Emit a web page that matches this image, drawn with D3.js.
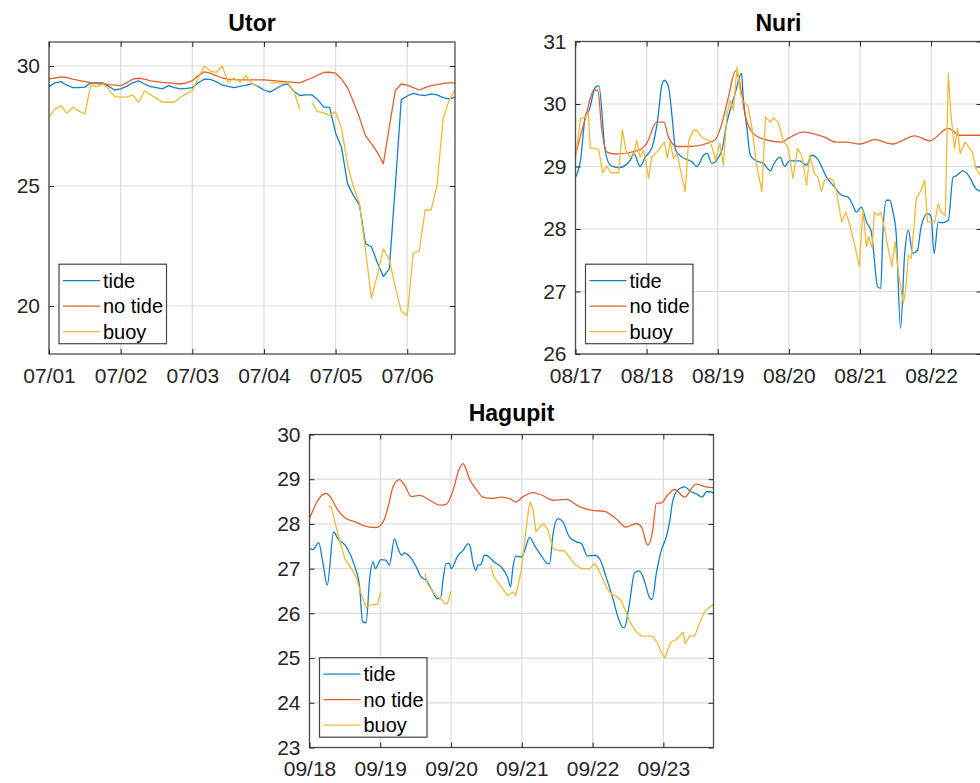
<!DOCTYPE html>
<html>
<head>
<meta charset="utf-8">
<script src="https://cdn.jsdelivr.net/npm/d3@7"></script>
<style>
  html, body { margin: 0; padding: 0; background: #fff; }
  svg { display: block; font-family: "Liberation Sans", Arial, Helvetica, sans-serif; }
</style>
</head>
<body>
<svg id="chart" width="980" height="783"></svg>
<script>
// Sea surface temperature during three typhoons: model run with tides,
// model run without tides, and buoy record. Each point is [hour, value],
// hours counted from 00:00 of the first labelled day; null = buoy gap.
const seriesNames = ["tide", "no tide", "buoy"];
const seriesColors = ["#1680c6", "#e0602e", "#efbb36"];

// ---------- Utor ----------
const utorDays = ["07/01", "07/02", "07/03", "07/04", "07/05", "07/06"];
const utorYTicks = [20, 25, 30];
const utorYRange = [18, 31];
const utorTide = [
  [0,29.14],[2,29.3],[4,29.35],[6,29.2],[8,29.1],[10,29.1],[12,29.12],[14,29.3],[16,29.3],[18,29.3],
  [20,29.15],[22,29.0],[24,29.05],[26,29.15],[28,29.3],[30,29.38],[32,29.25],[34,29.14],[36,29.1],[38,29.05],
  [40,29.18],[42,29.1],[44,29.05],[46,29.07],[48,29.1],[50,29.3],[52,29.45],[54,29.44],[56,29.35],[58,29.2],
  [60,29.15],[62,29.1],[64,29.15],[66,29.2],[68,29.27],[70,29.15],[72,29.0],[74,28.91],[76,29.05],[78,29.2],
  [80,29.25],[82,28.95],[84,28.77],[86,28.8],[88,28.8],[90,28.6],[92,28.3],[94,28.28],[96,27.2],[98,26.6],
  [100,25.1],[102,24.6],[104,24.2],[106,22.6],[108,22.47],[110,21.8],[112,21.23],[114,21.55],[116,25.0],[118,28.6],
  [120,28.75],[122,28.86],[124,28.8],[126,28.77],[128,28.84],[130,28.8],[132,28.68],[134,28.63],[136,28.7]
];
const utorNoTide = [
  [0,29.46],[2,29.5],[4,29.55],[6,29.52],[8,29.45],[10,29.4],[12,29.35],[14,29.3],[16,29.27],[18,29.25],
  [20,29.22],[22,29.2],[24,29.18],[26,29.3],[28,29.45],[30,29.49],[32,29.45],[34,29.38],[36,29.35],[38,29.32],
  [40,29.3],[42,29.28],[44,29.25],[46,29.3],[48,29.39],[50,29.6],[52,29.76],[54,29.7],[56,29.6],[58,29.5],
  [60,29.45],[62,29.43],[64,29.42],[66,29.42],[68,29.42],[70,29.42],[72,29.42],[74,29.4],[76,29.38],[78,29.36],
  [80,29.34],[82,29.32],[84,29.3],[86,29.4],[88,29.5],[90,29.62],[92,29.73],[94,29.74],[96,29.7],[98,29.45],
  [100,29.1],[102,28.5],[104,27.85],[106,27.1],[108,26.77],[110,26.4],[112,25.93],[114,27.46],[116,28.97],[118,29.25],
  [120,29.2],[122,29.1],[124,29.0],[126,29.1],[128,29.18],[130,29.22],[132,29.27],[134,29.3],[136,29.3]
];
const utorBuoy = [
  [0,27.87],[2,28.2],[4,28.35],[6,28.03],[8,28.28],[10,28.12],[12,28.0],[14,29.21],[16,29.14],[18,29.25],
  [20,29.04],[22,28.72],[24,28.7],[26,28.7],[28,28.8],[30,28.49],[32,28.96],[34,28.8],[36,28.65],[38,28.49],
  [40,28.49],[42,28.49],[44,28.7],[46,28.85],[48,28.97],[50,29.5],[52,30.0],[54,29.8],[56,29.73],[58,30.0],
  [60,29.32],[62,29.5],[64,29.32],[66,29.6],[68,29.25],[70,29.15],[72,null],
  [74,29.3],[76,29.3],[78,29.3],[80,29.28],[82,28.97],[84,28.2],[86,null],
  [88,28.49],[90,28.1],[92,28.05],[94,27.94],[96,28.1],[98,27.4],[100,25.9],[102,24.96],[104,24.27],[106,22.34],
  [108,20.33],[110,21.3],[112,22.37],[114,21.92],[116,20.8],[118,19.78],[120,19.6],[122,22.2],[124,22.3],[126,24.0],
  [128,24.0],[130,25.03],[132,27.8],[134,28.56],[136,29.0]
];

// ---------- Nuri ----------
const nuriDays = ["08/17", "08/18", "08/19", "08/20", "08/21", "08/22"];
const nuriYTicks = [26, 27, 28, 29, 30, 31];
const nuriYRange = [26, 31];
const nuriTide = [
  [0,28.83],[1.7,29.1],[3.4,29.82],[4.6,29.9],[6.7,30.27],[7.9,30.29],[10,29.26],[11.8,29.02],[14.6,28.98],[18.5,29.1],
  [19.7,29.21],[21.8,29.0],[23.5,29.15],[25.7,29.29],[28,29.85],[29,30.27],[30,30.38],[31.4,30.27],[32.6,29.79],[33.8,29.26],
  [36,29.15],[39.4,29.07],[41,29.0],[43.2,29.18],[44.4,29.21],[46,29.05],[49.4,29.26],[51,29.69],[52,29.87],[54,30.19],
  [56,30.49],[56.6,30.11],[57.8,29.63],[59,29.18],[60.7,29.1],[63.4,29.05],[65.8,28.93],[66.7,29.02],[69,29.15],[70.6,29.0],
  [72.2,29.09],[75.6,29.09],[78,29.02],[79.7,29.18],[81.4,29.14],[84.7,28.83],[87.4,28.67],[89.8,28.54],[92,28.51],[93.6,28.38],
  [94.8,28.27],[96.5,28.35],[98.2,28.11],[99.8,27.96],[102,27.07],[103,27.05],[103.7,27.93],[104.9,28.46],[106,28.46],[107,28.3],
  [108.2,27.93],[109.7,26.41],[111,27.55],[112.3,27.98],[113.8,27.61],[115.4,27.66],[116.6,28.03],[118.8,28.25],[120,28.2],[121,27.61],
  [122.4,28.11],[123.8,28.1],[125.8,28.14],[127.4,28.83],[128.4,28.85],[130.8,28.93],[133,28.83],[135,28.65],[137,28.6]
];
const nuriNoTide = [
  [0,29.18],[3.4,29.79],[6.2,30.22],[7.5,30.22],[8.9,29.58],[10.6,29.23],[13.4,29.2],[21.4,29.26],[24,29.37],[27.4,29.71],
  [29.8,29.71],[31.4,29.47],[34.3,29.32],[38.2,29.32],[47,29.42],[49.4,29.69],[51.6,30.11],[54,30.53],[55,30.43],[57.4,29.79],
  [60,29.53],[64,29.43],[69.6,29.39],[71.8,29.45],[76.8,29.55],[84,29.47],[88,29.39],[91.4,29.39],[96,29.36],[101,29.43],
  [107,29.36],[114.5,29.49],[119.5,29.41],[125.8,29.61],[129.6,29.5],[137,29.5]
];
const nuriBuoy = [
  [0,29.15],[1.7,29.77],[3.4,29.79],[4.3,29.87],[5,29.29],[6.7,29.29],[7.9,29.26],[9.1,28.9],[10.6,29.0],[12,28.9],
  [14.6,28.9],[15.8,29.59],[17,29.26],[18.5,29.15],[19.7,29.18],[20.6,29.42],[21.8,29.15],[23,29.26],[24.7,28.81],[25.7,29.15],
  [27.4,29.23],[28.8,29.31],[30,29.39],[31,29.13],[31.9,29.39],[33.1,29.13],[34.3,29.21],[35.3,28.97],[37,28.6],[38.2,29.42],
  [39.8,29.58],[41,29.58],[42,29.5],[43.2,29.45],[44.9,29.42],[46.1,29.31],[47.3,29.1],[48.7,29.37],[49.9,29.02],[51.1,29.82],
  [52.1,30.06],[53.3,29.9],[54.5,30.59],[55.7,30.17],[56.6,30.03],[58.1,29.98],[59.5,29.63],[61.2,29.0],[62.9,28.6],[64.1,29.79],
  [65.8,29.71],[66.7,29.78],[68.4,29.71],[70.1,29.42],[71.8,29.29],[73.4,28.81],[74.9,29.29],[76.3,29.18],[78,28.7],[79,29.18],
  [80.6,28.89],[81.8,28.83],[83,28.6],[84,28.78],[85.7,28.81],[86.9,28.78],[88.1,28.6],[89.8,28.11],[91.2,28.27],[92.6,28.06],
  [94.3,27.72],[95.8,27.4],[97,28.3],[98.2,27.72],[98.9,27.88],[100.1,27.69],[100.8,28.27],[102,28.22],[103,28.27],[104.4,27.98],
  [105.4,27.72],[106.8,27.4],[107.8,27.8],[109,27.29],[110.6,26.81],[111.4,27.02],[112.3,27.58],[113.3,27.53],[115,28.49],[116.6,28.62],
  [117.8,28.78],[118.8,28.11],[120,28.11],[121.2,28.11],[122.4,28.41],[123.4,28.27],[124.8,28.22],[125.8,30.49],[126.7,29.82],[127.9,29.29],
  [128.9,29.61],[129.8,29.21],[131.5,29.39],[133,29.29],[133.9,29.23],[135.1,28.97],[136.3,28.89],[137,28.8]
];

// ---------- Hagupit ----------
const hagupitDays = ["09/18", "09/19", "09/20", "09/21", "09/22", "09/23"];
const hagupitYTicks = [23, 24, 25, 26, 27, 28, 29, 30];
const hagupitYRange = [23, 30];
const hagupitTide = [
  [0,27.45],[1.2,27.43],[3.1,27.58],[4.6,27.11],[6,26.63],[8.2,27.82],[9.6,27.67],[12.5,27.49],[15.4,27.04],[17,26.59],
  [18,25.81],[19.2,25.79],[20.4,26.78],[21.6,27.15],[22.3,27.0],[24.2,27.2],[25.9,27.19],[27.1,27.08],[28.8,27.67],[30,27.45],
  [31.2,27.3],[32.2,27.35],[34.6,27.22],[36.2,27.04],[37.9,26.81],[39.6,26.74],[41.3,26.55],[43.4,26.33],[44.4,26.33],[45.4,26.81],
  [46.3,27.11],[47.5,27.11],[48,27.0],[50.4,27.3],[52.1,27.41],[53.8,27.56],[54.5,27.49],[55.4,27.15],[56.4,26.96],[57.1,27.08],
  [58.1,27.09],[59.3,27.3],[60.5,27.28],[62.6,27.15],[65,27.04],[67.2,26.8],[68.2,26.6],[69,27.04],[70,27.28],[71.8,27.26],
  [73,27.41],[74.6,27.7],[76.3,27.52],[78.5,27.3],[80.9,27.11],[81.4,27.11],[82.6,27.78],[84.2,28.12],[85.9,28.05],[88.1,27.71],
  [90.5,27.6],[92.2,27.56],[94.3,27.28],[96.7,27.3],[98.4,27.22],[100.6,26.81],[103,26.3],[104.6,25.92],[106.3,25.68],[106.8,25.68],
  [108.5,26.22],[110.2,26.9],[111.8,26.95],[113.5,26.74],[115.2,26.37],[116.2,26.31],[117.6,26.89],[119.3,27.41],[121,27.71],[122.2,28.08],
  [123.1,28.49],[124.8,28.75],[127.2,28.83],[129.4,28.72],[131,28.68],[133.2,28.6],[134.6,28.72],[136.1,28.72],[137,28.68]
];
const hagupitNoTide = [
  [0,28.12],[2.9,28.53],[4.6,28.66],[5.8,28.68],[7.4,28.57],[9.6,28.31],[12,28.14],[15.4,28.05],[18,27.97],[22.6,27.92],
  [25,28.05],[27.1,28.5],[28.3,28.83],[30.5,28.99],[32.2,28.87],[34.6,28.61],[37.4,28.64],[40.8,28.53],[44.2,28.42],[46.3,28.44],
  [48.7,28.75],[50.6,29.2],[52.1,29.35],[53,29.24],[54.2,29.01],[56.4,28.79],[58.8,28.6],[61.7,28.57],[65,28.6],[68,28.56],
  [70,28.49],[72.2,28.6],[75.8,28.7],[79.2,28.63],[82.6,28.53],[87.1,28.55],[91.7,28.38],[95.5,28.31],[100,28.28],[103.9,28.12],
  [107.3,27.93],[110.9,28.01],[112.6,27.93],[114.7,27.52],[116.4,27.86],[117.6,28.46],[119.3,28.47],[121.4,28.64],[123.8,28.77],[127.2,28.6],
  [131,28.89],[134.4,28.83],[137,28.81]
];
const hagupitBuoy = [
  [6.5,28.4],[7.4,28.38],[9.6,27.78],[12,27.22],[14.2,27.0],[15.8,26.81],[17.5,26.44],[19.2,26.13],[20.4,26.18],[22.1,26.2],
  [23,26.2],[24.2,26.48],[30,null],
  [39.1,26.89],[40.1,26.65],[41.8,26.48],[43.4,26.37],[44.6,26.32],[45.8,26.23],[46.8,26.22],[48,26.5],[55,null],
  [61.4,27.08],[62.6,26.81],[65,26.59],[67.2,26.4],[68.2,26.44],[69,26.48],[70,26.4],[71.8,26.96],[73.4,27.86],[74.4,28.38],
  [74.9,28.49],[75.8,28.31],[76.8,27.82],[78.5,27.97],[79.7,27.99],[80.9,27.86],[82.6,27.45],[84.7,27.4],[86.4,27.4],[88.1,27.26],
  [89.8,27.11],[92.2,27.0],[95,27.0],[96.7,27.11],[97.7,27.02],[99.4,26.78],[100.6,26.59],[102.2,26.44],[103.9,26.38],[105.6,26.3],
  [107.3,26.03],[109,25.77],[110.9,25.58],[112.6,25.49],[116.4,25.49],[118.1,25.32],[119.3,25.14],[120.5,24.99],[121.4,25.17],[122.6,25.36],
  [124.3,25.41],[126.7,25.58],[127.4,25.32],[128.9,25.49],[130.6,25.49],[132.2,25.77],[133.9,26.03],[135.6,26.14],[137,26.2]
];

// ---------- layout ----------
const panels = [
  { title: "Utor", days: utorDays, yTicks: utorYTicks, yRange: utorYRange,
    series: [utorTide, utorNoTide, utorBuoy], smooth: false,
    left: 49, top: 42, width: 406, height: 312, hours: 136, titleY: 31 },
  { title: "Nuri", days: nuriDays, yTicks: nuriYTicks, yRange: nuriYRange,
    series: [nuriTide, nuriNoTide, nuriBuoy], smooth: true,
    left: 575.5, top: 41.5, width: 406, height: 312.5, hours: 137, titleY: 31 },
  { title: "Hagupit", days: hagupitDays, yTicks: hagupitYTicks, yRange: hagupitYRange,
    series: [hagupitTide, hagupitNoTide, hagupitBuoy], smooth: true,
    left: 309.5, top: 434.5, width: 404, height: 313, hours: 137, titleY: 421 }
];

const svg = d3.select("#chart");
const axisColor = "#262626";

panels.forEach((p, pi) => {
  const g = svg.append("g").attr("transform", `translate(${p.left},${p.top})`);
  const x = d3.scaleLinear().domain([0, p.hours]).range([0, p.width]);
  const y = d3.scaleLinear().domain(p.yRange).range([p.height, 0]);
  const dayHours = p.days.map((d, i) => i * 24);
  const dayLabel = h => p.days[h / 24];

  g.append("rect").attr("width", p.width).attr("height", p.height).attr("fill", "#fff");

  // grid
  g.append("g").selectAll("line").data(dayHours).join("line")
    .attr("x1", d => x(d)).attr("x2", d => x(d))
    .attr("y1", 0).attr("y2", p.height)
    .attr("stroke", "#dcdcdc").attr("stroke-width", 1.2);
  g.append("g").selectAll("line").data(p.yTicks).join("line")
    .attr("x1", 0).attr("x2", p.width)
    .attr("y1", d => y(d)).attr("y2", d => y(d))
    .attr("stroke", "#dcdcdc").attr("stroke-width", 1.2);

  // data lines
  const clipId = "clip" + pi;
  g.append("clipPath").attr("id", clipId).append("rect")
    .attr("width", p.width).attr("height", p.height);
  const lines = g.append("g").attr("clip-path", `url(#${clipId})`);
  p.series.forEach((data, si) => {
    const line = d3.line()
      .defined(d => d[1] !== null)
      .x(d => x(d[0])).y(d => y(d[1]))
      .curve(p.smooth && si < 2 ? d3.curveMonotoneX : d3.curveLinear);
    lines.append("path").datum(data)
      .attr("d", line)
      .attr("fill", "none")
      .attr("stroke", seriesColors[si])
      .attr("stroke-width", 1.3)
      .attr("stroke-linejoin", "round");
  });

  // axes with inward ticks on all four sides
  const styleAxis = sel => {
    sel.select(".domain").remove();
    sel.selectAll(".tick line").attr("stroke", axisColor).attr("stroke-width", 1);
    sel.selectAll(".tick text").attr("fill", axisColor).style("font-size", "21px");
  };
  g.append("g").attr("transform", `translate(0,${p.height})`)
    .call(d3.axisBottom(x).tickValues(dayHours).tickFormat(dayLabel)
      .tickSizeInner(-5).tickSizeOuter(0).tickPadding(14))
    .call(styleAxis);
  g.append("g")
    .call(d3.axisTop(x).tickValues(dayHours).tickFormat("")
      .tickSizeInner(-5).tickSizeOuter(0))
    .call(styleAxis);
  g.append("g")
    .call(d3.axisLeft(y).tickValues(p.yTicks).tickFormat(d3.format("d"))
      .tickSizeInner(-5).tickSizeOuter(0).tickPadding(9))
    .call(styleAxis);
  g.append("g").attr("transform", `translate(${p.width},0)`)
    .call(d3.axisRight(y).tickValues(p.yTicks).tickFormat("")
      .tickSizeInner(-5).tickSizeOuter(0))
    .call(styleAxis);

  g.append("rect").attr("width", p.width).attr("height", p.height)
    .attr("fill", "none").attr("stroke", axisColor).attr("stroke-width", 1.3)
    .attr("opacity", 0.8);

  // title
  svg.append("text")
    .attr("x", p.left + p.width / 2).attr("y", p.titleY)
    .attr("text-anchor", "middle")
    .style("font-size", "23px").style("font-weight", "bold")
    .attr("fill", "#000")
    .text(p.title);

  // legend, lower-left corner
  const lw = 107.5, lh = 79.5;
  const lg = g.append("g").attr("transform", `translate(10,${p.height - 10.3 - lh})`);
  lg.append("rect").attr("width", lw).attr("height", lh)
    .attr("fill", "#fff").attr("stroke", axisColor).attr("stroke-width", 1.2)
    .attr("opacity", 0.85);
  seriesNames.forEach((name, si) => {
    const cy = 16.4 + si * 25.5;
    lg.append("line").attr("x1", 4).attr("x2", 41).attr("y1", cy).attr("y2", cy)
      .attr("stroke", seriesColors[si]).attr("stroke-width", 1.3);
    lg.append("text").attr("x", 44).attr("y", cy).attr("dy", "0.35em")
      .style("font-size", "20px").attr("fill", "#000").text(name);
  });
});
</script>
</body>
</html>
